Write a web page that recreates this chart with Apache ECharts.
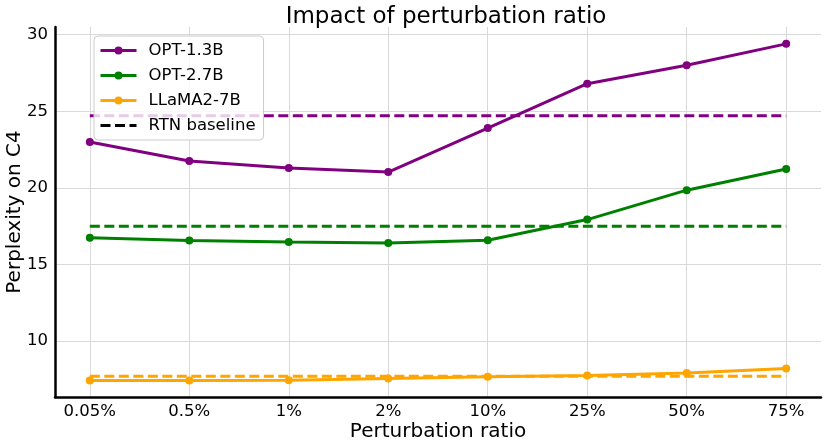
<!DOCTYPE html>
<html>
<head>
<meta charset="utf-8">
<script src="https://cdn.jsdelivr.net/npm/echarts@6/dist/echarts.min.js"></script>
<style>
  html, body { margin: 0; padding: 0; background: #fff; }
  #chart { width: 831px; height: 443px; }
</style>
</head>
<body>
<div id="chart"></div>
<script>
// Perturbation ratios (x categories)
const ratios = ['0.05%', '0.5%', '1%', '2%', '10%', '25%', '50%', '75%'];

// Perplexity values
const opt13b = [23.0, 21.75, 21.3, 21.03, 23.9, 26.8, 28.0, 29.4];
const opt27b = [16.75, 16.57, 16.46, 16.4, 16.58, 17.93, 19.85, 21.23];
const llama7b = [7.43, 7.43, 7.45, 7.56, 7.67, 7.75, 7.91, 8.21];

// RTN baselines, same order as models
const modelNames = ['OPT-1.3B', 'OPT-2.7B', 'LLaMA2-7B'];
const rtnBaseline = [24.7, 17.5, 7.71];

const yTicks = [10, 15, 20, 25, 30];

const colors = ['#800080', '#008000', '#ffa500'];
const fontFamily = 'DejaVu Sans';

const chart = echarts.init(document.getElementById('chart'));

const xIdx = ratios.map((_, i) => i);
const toPoints = vals => vals.map((v, i) => [i, v]);

const modelSeries = [opt13b, opt27b, llama7b].map((vals, k) => ({
  name: modelNames[k],
  type: 'line',
  data: toPoints(vals),
  symbol: 'circle',
  symbolSize: 8,
  color: colors[k],
  lineStyle: { width: 3, color: colors[k] },
  itemStyle: { color: colors[k] },
  z: 3
}));

const baselineSeries = rtnBaseline.map((b, k) => ({
  name: 'rtn-' + k,
  type: 'line',
  data: [[0, b], [ratios.length - 1, b]],
  symbol: 'none',
  lineStyle: { width: 3, color: colors[k], type: [10, 4.5] },
  z: 2
}));

// legend-only entry for the dashed baseline
const legendBaseline = {
  name: 'RTN baseline',
  type: 'line',
  data: [],
  symbol: 'none',
  color: '#000',
  lineStyle: { width: 3, color: '#000', type: [10, 4.5] }
};

const option = {
  animation: false,
  backgroundColor: '#fff',
  title: {
    text: 'Impact of perturbation ratio',
    left: 441,
    textAlign: 'center',
    top: 1,
    textStyle: { fontFamily, fontSize: 23, fontWeight: 'normal', color: '#000' }
  },
  legend: {
    data: modelNames.concat([{ name: 'RTN baseline', itemStyle: { opacity: 0 } }]),
    orient: 'vertical',
    left: 94,
    top: 36,
    itemWidth: 36,
    itemHeight: 10,
    itemGap: 8,
    padding: [6, 8, 6, 5],
    backgroundColor: 'rgba(255,255,255,0.8)',
    borderColor: '#cccccc',
    borderWidth: 1,
    borderRadius: 4,
    lineStyle: { width: 3 },
    textStyle: { fontFamily, fontSize: 16.5, color: '#000', padding: [0, 0, 0, 7] },
    z: 10
  },
  grid: { left: 55, right: 10, top: 27, bottom: 46, containLabel: false, outerBoundsMode: 'none' },
  xAxis: {
    type: 'value',
    min: -0.35,
    max: ratios.length - 1 + 0.35,
    name: 'Perturbation ratio',
    nameLocation: 'middle',
    nameGap: 25,
    nameMoveOverlap: false,
    nameTextStyle: { fontFamily, fontSize: 20, color: '#000' },
    axisLine: { show: true, onZero: false, lineStyle: { color: '#000', width: 2.5 } },
    axisTick: { show: false, customValues: xIdx },
    axisLabel: {
      customValues: xIdx,
      formatter: v => ratios[Math.round(v)],
      fontFamily, fontSize: 16.5, color: '#000', margin: 6
    },
    splitLine: { show: true, lineStyle: { color: '#d9d9d9', width: 1 } }
  },
  yAxis: {
    type: 'value',
    min: 6.35,
    max: 30.5,
    name: 'Perplexity on C4',
    nameLocation: 'middle',
    nameGap: 30,
    nameMoveOverlap: false,
    nameRotate: 90,
    nameTextStyle: { fontFamily, fontSize: 20, color: '#000' },
    axisLine: { show: true, onZero: false, lineStyle: { color: '#000', width: 2.5 } },
    axisTick: { show: false, customValues: yTicks },
    axisLabel: {
      customValues: yTicks,
      fontFamily, fontSize: 16.5, color: '#000', margin: 7
    },
    splitLine: { show: true, lineStyle: { color: '#d9d9d9', width: 1 } }
  },
  series: modelSeries.concat(baselineSeries, [legendBaseline])
};

chart.setOption(option);
</script>
</body>
</html>
